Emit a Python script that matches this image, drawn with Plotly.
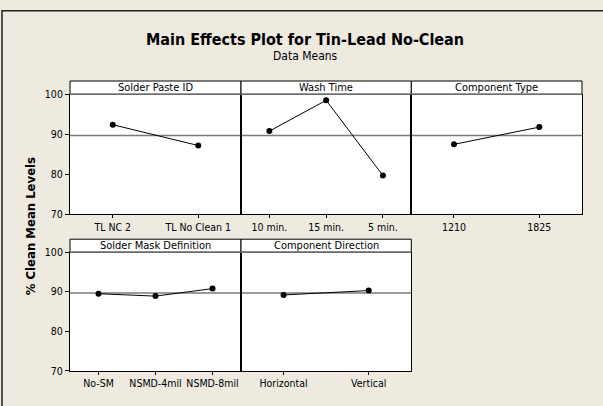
import plotly.graph_objects as go

W, H = 603, 406

# ---- data ----
paste_levels = ["TL NC 2", "TL No Clean 1"]
paste_means = [92.4, 87.2]
wash_levels = ["10 min.", "15 min.", "5 min."]
wash_means = [90.8, 98.5, 79.7]
ctype_levels = ["1210", "1825"]
ctype_means = [87.5, 91.8]
mask_levels = ["No-SM", "NSMD-4mil", "NSMD-8mil"]
mask_means = [89.5, 88.9, 90.8]
dir_levels = ["Horizontal", "Vertical"]
dir_means = [89.2, 90.3]
overall_mean = 89.7
y_ticks = [70, 80, 90, 100]

panels = [
    ("Solder Paste ID", paste_levels, paste_means),
    ("Wash Time", wash_levels, wash_means),
    ("Component Type", ctype_levels, ctype_means),
    ("Solder Mask Definition", mask_levels, mask_means),
    ("Component Direction", dir_levels, dir_means),
]

BG = "#EEEAE0"
FONT = "Tahoma, 'DejaVu Sans Condensed', 'Liberation Sans', sans-serif"

col_px = [(70, 241), (241, 411.3), (411.3, 582)]
row_px = [(91, 214.7), (253.7, 376)]
strip_h = [13.7, 13.4]

def fx(px):
    return px / W

def fy(py):
    return 1 - py / H

fig = go.Figure()
shapes = []
annotations = []

for i, (name, levels, means) in enumerate(panels):
    r, c = divmod(i, 3)
    n = i + 1
    xa = "xaxis" if n == 1 else f"xaxis{n}"
    ya = "yaxis" if n == 1 else f"yaxis{n}"
    xr = "x" if n == 1 else f"x{n}"
    yr = "y" if n == 1 else f"y{n}"
    x0, x1 = col_px[c]
    y0, y1 = row_px[r]
    pos = list(range(1, len(levels) + 1))
    fig.add_trace(go.Scatter(
        x=pos, y=means, xaxis=xr, yaxis=yr, mode="lines+markers",
        line=dict(color="black", width=1),
        marker=dict(color="black", size=6),
        showlegend=False, hoverinfo="skip"))
    fig.layout[xa] = dict(
        domain=[fx(x0), fx(x1)], anchor=yr, range=[0.5, len(levels) + 0.5],
        tickmode="array", tickvals=pos, ticktext=levels,
        ticks="outside", ticklen=3, tickcolor="black", tickwidth=1,
        showline=True, linecolor="black", linewidth=1, showgrid=False,
        zeroline=False, fixedrange=True,
        tickfont=dict(family=FONT, size=10.5, color="black"))
    fig.layout[ya] = dict(
        domain=[fy(y1), fy(y0)], anchor=xr, range=[70, 100],
        tickmode="array", tickvals=y_ticks,
        ticks="outside" if c == 0 else "", ticklen=4, tickcolor="black",
        showticklabels=(c == 0), showline=True, mirror=True,
        linecolor="black", linewidth=1, showgrid=False, zeroline=False,
        fixedrange=True,
        tickfont=dict(family=FONT, size=10.5, color="black"))
    # mean reference line
    shapes.append(dict(type="line", xref=f"{xr} domain", yref=yr,
                       x0=0, x1=1, y0=overall_mean, y1=overall_mean,
                       line=dict(color="#7a7a7a", width=1.5), layer="below"))
    # strip
    sy0 = fy(y0)
    sy1 = fy(y0 - strip_h[r])
    shapes.append(dict(type="rect", xref="paper", yref="paper",
                       x0=fx(x0), x1=fx(x1), y0=sy0, y1=sy1,
                       fillcolor="white", line=dict(color="black", width=1)))
    shapes.append(dict(type="line", xref="paper", yref="paper",
                       x0=fx(x0), x1=fx(x1), y0=sy0, y1=sy0,
                       line=dict(color="#6a6a6a", width=1.5)))
    annotations.append(dict(text=name, xref="paper", yref="paper",
                            x=(fx(x0) + fx(x1)) / 2, y=(sy0 + sy1) / 2,
                            xanchor="center", yanchor="middle", showarrow=False,
                            font=dict(family=FONT, size=11, color="black")))

# outer frame (left/top visible)
shapes.append(dict(type="rect", xref="paper", yref="paper",
                   x0=fx(2), x1=fx(620), y0=fy(420), y1=fy(5),
                   line=dict(color="#222222", width=1.5), layer="below"))

annotations += [
    dict(text="<b>Main Effects Plot for Tin-Lead No-Clean</b>", xref="paper", yref="paper",
         x=fx(305), y=fy(35), xanchor="center", yanchor="middle", showarrow=False,
         font=dict(family=FONT, size=16, color="black")),
    dict(text="Data Means", xref="paper", yref="paper",
         x=fx(305), y=fy(52), xanchor="center", yanchor="middle", showarrow=False,
         font=dict(family=FONT, size=12, color="black")),
    dict(text="<b>% Clean Mean Levels</b>", xref="paper", yref="paper",
         x=fx(30), y=fy(227), xanchor="center", yanchor="middle", showarrow=False,
         textangle=-90, font=dict(family=FONT, size=13, color="black")),
]

fig.update_layout(width=W, height=H, margin=dict(l=0, r=0, t=0, b=0),
                  paper_bgcolor=BG, plot_bgcolor="white",
                  shapes=shapes, annotations=annotations, showlegend=False)

fig.write_html("out.html", config={"displayModeBar": False, "staticPlot": True},
               post_script="document.body.style.margin='0';document.body.style.overflow='hidden';")
